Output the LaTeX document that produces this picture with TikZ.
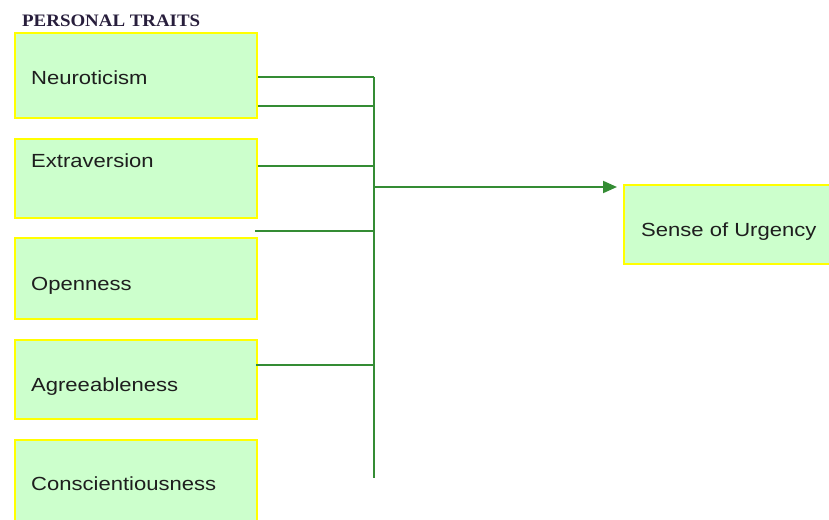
\documentclass[tikz,border=0pt]{standalone}
\usepackage{fontspec}
\setmainfont[FakeStretch=1.16]{Liberation Sans}
\newfontfamily\titlefont[FakeStretch=1.08]{Liberation Serif}
\usetikzlibrary{arrows.meta}
\definecolor{boxfill}{RGB}{204,255,204}
\definecolor{boxline}{RGB}{255,255,0}
\definecolor{wire}{RGB}{52,140,52}
\definecolor{titlecol}{RGB}{40,30,60}
\definecolor{txt}{RGB}{30,30,30}
\begin{document}
\begin{tikzpicture}[x=1pt,y=-1pt,
  trait/.style={draw=boxline,fill=boxfill,line width=2pt,inner sep=0pt,anchor=north west},
  lbl/.style={anchor=base west,inner sep=0pt,text=txt,font=\fontsize{19}{22}\selectfont},
  wireline/.style={draw=wire,line width=2pt}]
\useasboundingbox (0,0) rectangle (829,519);
\node[anchor=base west,inner sep=0pt,text=titlecol,font=\titlefont\bfseries\fontsize{17.5}{20}\selectfont] (title) at (22,26.5) {PERSONAL TRAITS};
\node[trait,minimum width=242pt,minimum height=85pt] (neuro) at (14,32) {};
\node[trait,minimum width=242pt,minimum height=79pt] (extra) at (14,138) {};
\node[trait,minimum width=242pt,minimum height=81pt] (open) at (14,237) {};
\node[trait,minimum width=242pt,minimum height=79pt] (agree) at (14,339) {};
\node[trait,minimum width=242pt,minimum height=82pt] (consc) at (14,439) {};
\node[trait,minimum width=220pt,minimum height=79pt] (urg) at (623,184) {};
\node[lbl] (tneuro) at (31,84) {Neuroticism};
\node[lbl] (textra) at (31,167) {Extraversion};
\node[lbl] (topen) at (31,290) {Openness};
\node[lbl] (tagree) at (31,391) {Agreeableness};
\node[lbl] (tconsc) at (31,490) {Conscientiousness};
\node[lbl] (turg) at (641,236.5) {Sense of Urgency};
\coordinate (j1) at (373.5,77);
\coordinate (j2) at (373.5,106);
\coordinate (j3) at (373.5,166);
\coordinate (j4) at (373.5,231);
\coordinate (j5) at (373.5,365);
\coordinate (jout) at (373.5,187);
\coordinate (busbot) at (373.5,478);
\coordinate (tip) at (617,187);
\draw[wireline] (j1) -- (busbot);
\draw[wireline] (neuro.east |- j1) -- (j1);
\draw[wireline] (neuro.east |- j2) -- (j2);
\draw[wireline] (extra.east |- j3) -- (j3);
\draw[wireline] (255,231) coordinate (s4) -- (j4);
\draw[wireline] ([xshift=-2pt]agree.east |- j5) -- (j5);
\draw[wireline,-{Triangle[length=14pt,width=12pt]}] (jout) -- (tip);
\end{tikzpicture}
\end{document}
